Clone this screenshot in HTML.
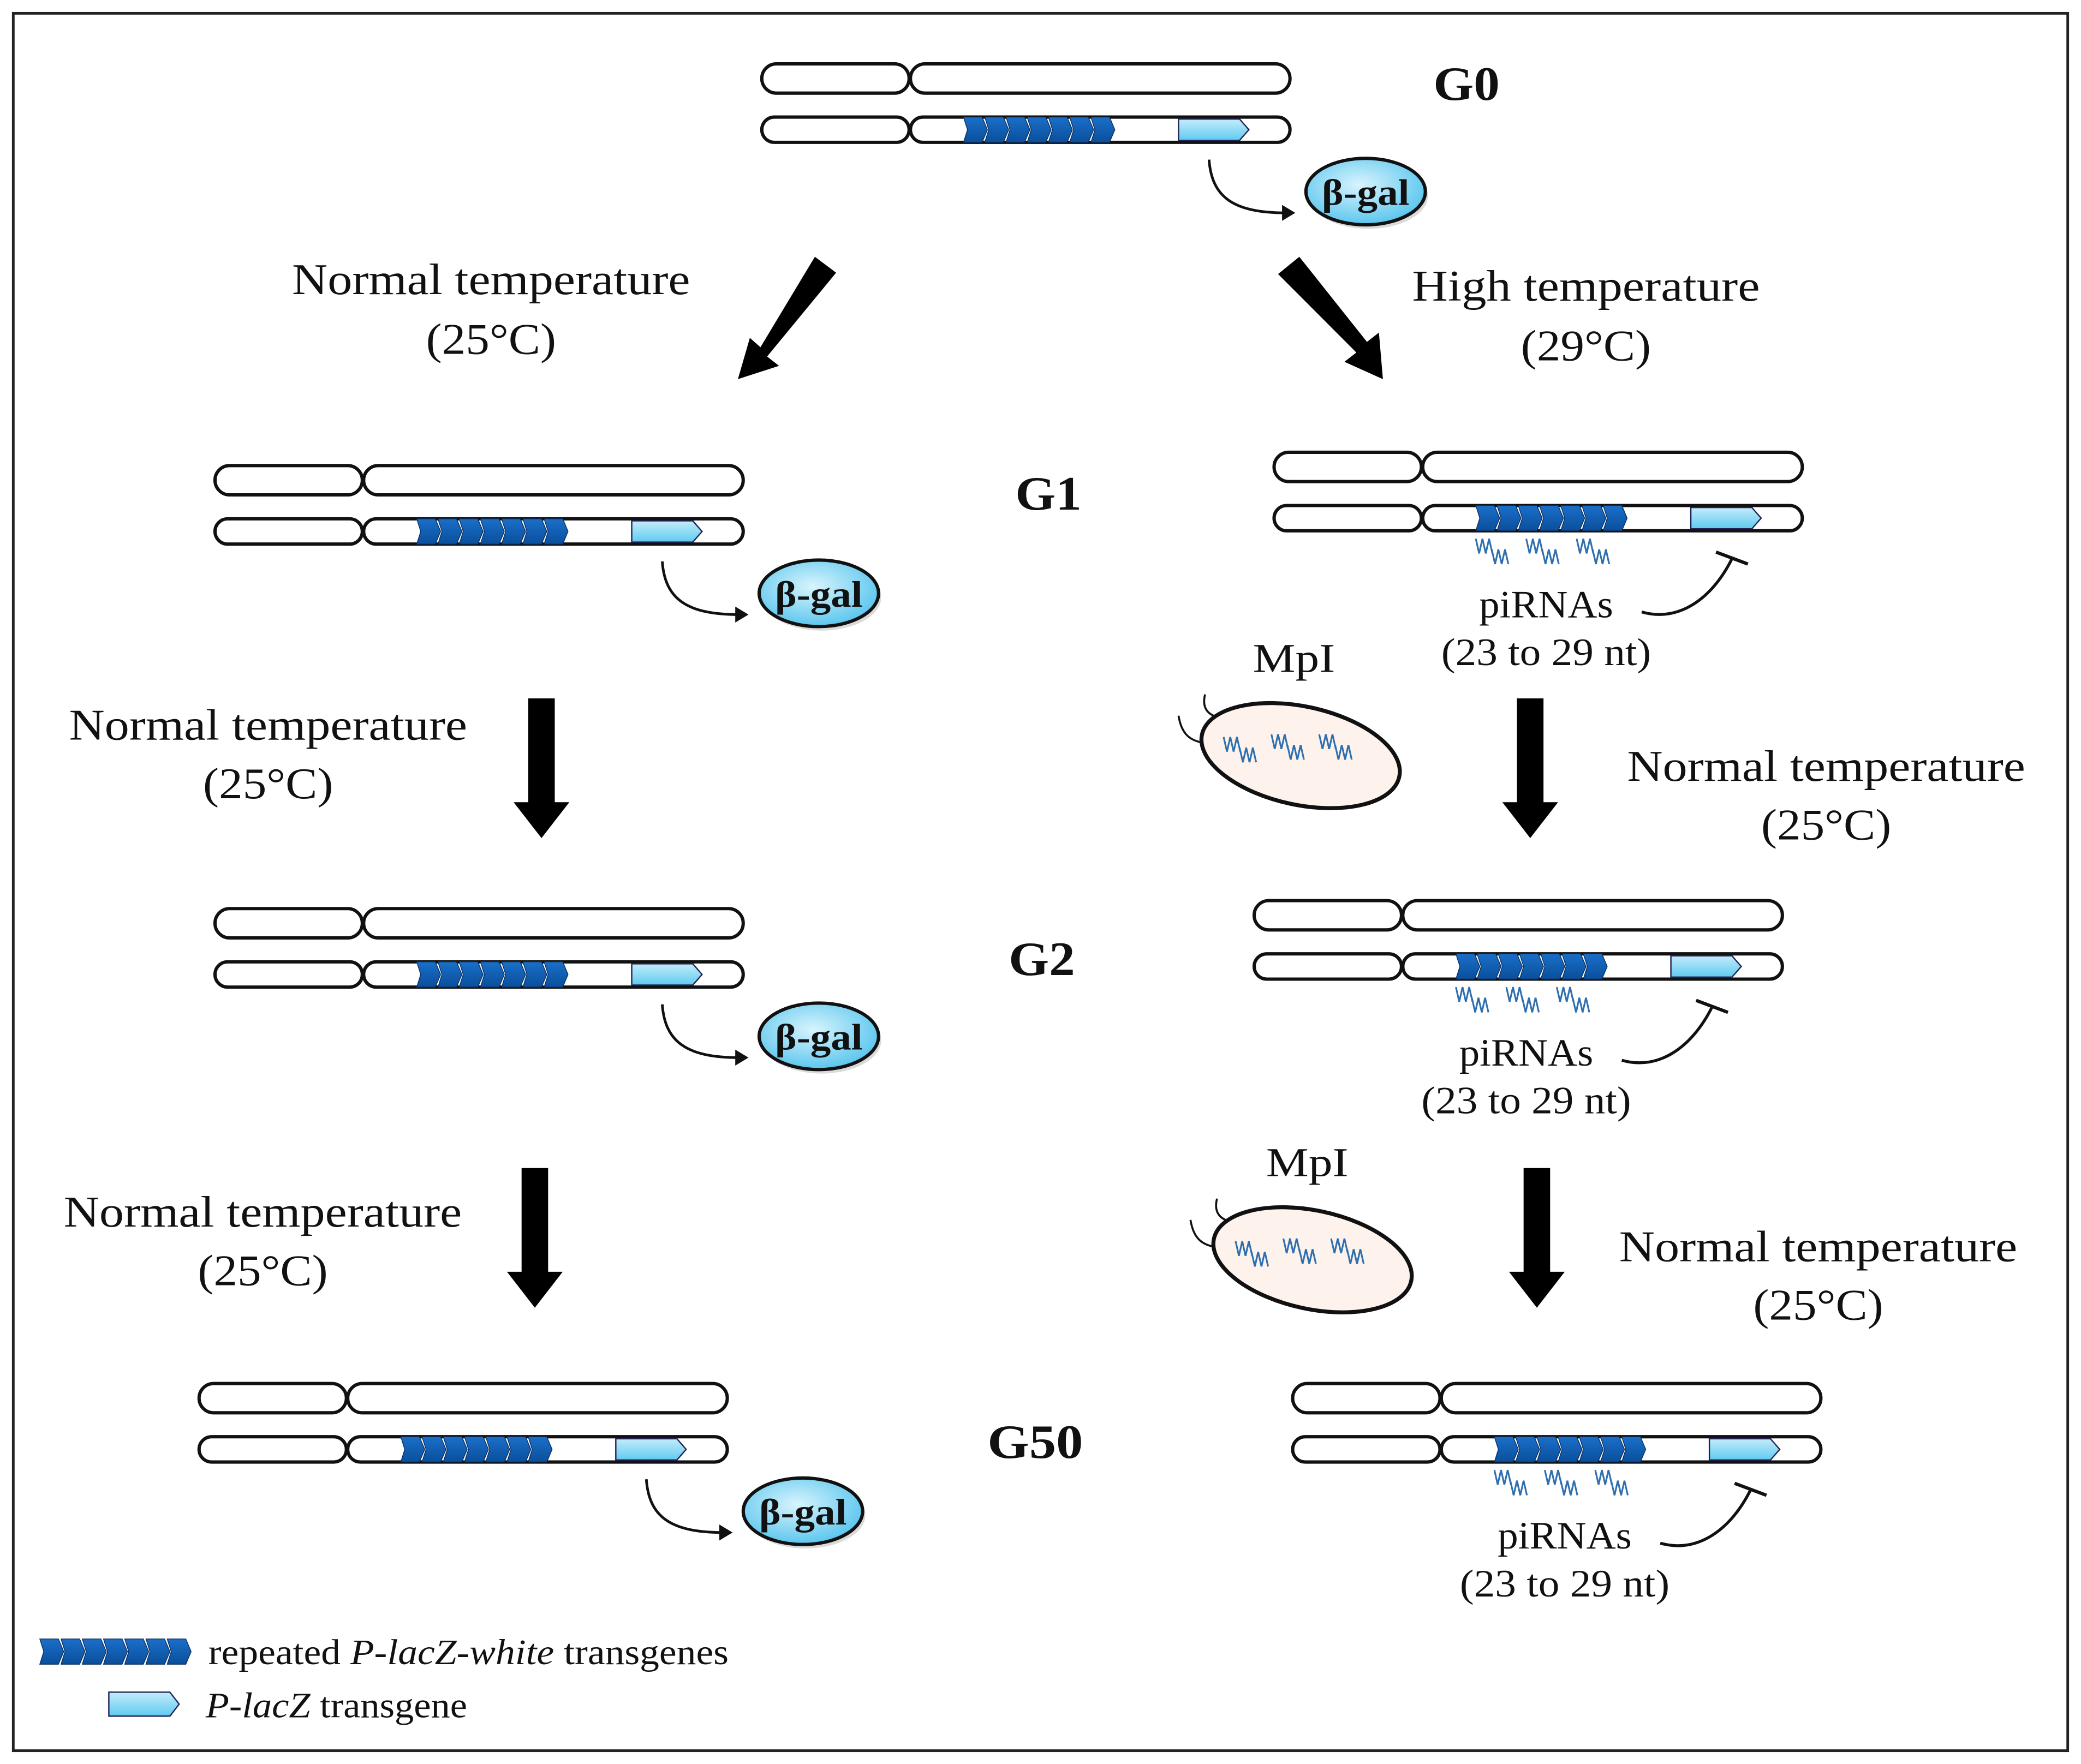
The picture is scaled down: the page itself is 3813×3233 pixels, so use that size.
<!DOCTYPE html>
<html><head><meta charset="utf-8"><style>
html,body{margin:0;padding:0;background:#fff}
svg{display:block}
text{font-family:"Liberation Serif",serif;fill:#111}
</style></head><body>
<svg width="3813" height="3233" viewBox="0 0 1568 1326" preserveAspectRatio="none" xmlns="http://www.w3.org/2000/svg">
<defs>
<linearGradient id="db" x1="0" y1="0" x2="0" y2="1"><stop offset="0" stop-color="#1a6fc9"/><stop offset="1" stop-color="#0a4f9c"/></linearGradient>
<linearGradient id="lb" x1="0" y1="0" x2="0" y2="1"><stop offset="0" stop-color="#c4ecfb"/><stop offset="1" stop-color="#5fcbf0"/></linearGradient>
<radialGradient id="bg" cx="0.45" cy="0.4" r="0.6"><stop offset="0" stop-color="#d8f4fd"/><stop offset="1" stop-color="#5bc6ee"/></radialGradient>
<g id="chev">
<polygon points="0,0 14,0 18,9.5 14,19 0,19 3,9.5" fill="url(#db)" stroke="#0a2f60" stroke-width="0.6"/>
</g>
<g id="rep">
<use href="#chev" x="0"/><use href="#chev" x="16"/><use href="#chev" x="32"/><use href="#chev" x="48"/><use href="#chev" x="64"/><use href="#chev" x="80"/><use href="#chev" x="96"/>
</g>
<g id="pair">
<rect x="0" y="0" width="111" height="22" rx="11" fill="#fff" stroke="#111" stroke-width="2.5"/>
<rect x="112" y="0" width="286" height="22" rx="11" fill="#fff" stroke="#111" stroke-width="2.5"/>
<rect x="0" y="40" width="111" height="19" rx="9.5" fill="#fff" stroke="#111" stroke-width="2.5"/>
<rect x="112" y="40" width="286" height="19" rx="9.5" fill="#fff" stroke="#111" stroke-width="2.5"/>
<use href="#rep" x="152" y="40"/>
<polygon points="314,41.5 360,41.5 367,49.5 360,57.5 314,57.5" fill="url(#lb)" stroke="#225" stroke-width="1"/>
</g>
<g id="bgal">
<path d="M337,72 C339,100 355,112 395,112" fill="none" stroke="#111" stroke-width="2"/>
<polygon points="392,106 402,112 392,118" fill="#111"/>
<ellipse cx="457" cy="99" rx="45" ry="25" fill="#999" opacity="0.35"/>
<ellipse cx="455" cy="96" rx="45" ry="25" fill="url(#bg)" stroke="#111" stroke-width="2.5"/>
<text x="455" y="106" font-size="28" font-weight="bold" text-anchor="middle" textLength="66" lengthAdjust="spacingAndGlyphs">β-gal</text>
</g>
<g id="wz">
<polyline points="0,0 2.5,11 5,0 7.5,11 10,0 12.5,11" fill="none" stroke="#2e6fb0" stroke-width="1.3"/>
</g>
<g id="wig">
<use href="#wz" x="0" y="0"/><use href="#wz" x="12" y="8"/>
<use href="#wz" x="38" y="0"/><use href="#wz" x="50" y="8"/>
<use href="#wz" x="76" y="0"/><use href="#wz" x="88" y="8"/>
</g>
<g id="pir">
<use href="#wig" x="152" y="65"/>
<path d="M277,120 C305,128 330,110 345,80" fill="none" stroke="#111" stroke-width="2.2"/>
<line x1="333" y1="75" x2="357" y2="84" stroke="#111" stroke-width="2.5"/>
<text x="205" y="124" font-size="29" text-anchor="middle" textLength="101" lengthAdjust="spacingAndGlyphs">piRNAs</text>
<text x="205" y="160" font-size="29" text-anchor="middle" textLength="158" lengthAdjust="spacingAndGlyphs">(23 to 29 nt)</text>
</g>
<g id="mpl">
<path d="M-72,-46 C-75,-34 -68,-30 -60,-28" fill="none" stroke="#111" stroke-width="1.5"/>
<path d="M-92,-30 C-90,-18 -85,-12 -75,-10" fill="none" stroke="#111" stroke-width="1.5"/>
<ellipse cx="0" cy="0" rx="76" ry="37" transform="rotate(12)" fill="#fdf3ec" stroke="#111" stroke-width="3"/>
<use href="#wz" x="-58" y="-14"/><use href="#wz" x="-46" y="-6"/>
<use href="#wz" x="-22" y="-16"/><use href="#wz" x="-10" y="-8"/>
<use href="#wz" x="14" y="-16"/><use href="#wz" x="26" y="-8"/>
</g>
<g id="varr"><polygon points="-10,0 10,0 10,78 21,78 0,105 -21,78 -10,78" fill="#000"/></g>
</defs>
<rect x="10" y="10" width="1548" height="1306" fill="#fff" stroke="#222" stroke-width="2"/>

<!-- G0 -->
<use href="#pair" x="574" y="48"/>
<use href="#bgal" x="574" y="48"/>
<text x="1105" y="75" font-size="36" font-weight="bold" text-anchor="middle" textLength="50" lengthAdjust="spacingAndGlyphs">G0</text>

<!-- diagonal arrows -->
<polygon points="614,193 630,205 578,268 587,275 556,285 565,254 573,261" fill="#000"/>
<polygon points="963,206 979,193 1030,257 1039,250 1042,285 1013,272 1022,265" fill="#000"/>
<text x="370" y="221" font-size="33" text-anchor="middle" textLength="300" lengthAdjust="spacingAndGlyphs">Normal temperature</text>
<text x="370" y="266" font-size="33" text-anchor="middle" textLength="98" lengthAdjust="spacingAndGlyphs">(25°C)</text>
<text x="1195" y="226" font-size="33" text-anchor="middle" textLength="262" lengthAdjust="spacingAndGlyphs">High temperature</text>
<text x="1195" y="271" font-size="33" text-anchor="middle" textLength="98" lengthAdjust="spacingAndGlyphs">(29°C)</text>

<!-- G1 -->
<use href="#pair" x="162" y="350"/>
<use href="#bgal" x="162" y="350"/>
<use href="#pair" x="960" y="340"/>
<use href="#pir" x="960" y="340"/>
<text x="790" y="383" font-size="36" font-weight="bold" text-anchor="middle" textLength="50" lengthAdjust="spacingAndGlyphs">G1</text>

<use href="#varr" x="408" y="525"/>
<use href="#varr" x="1153" y="525"/>
<text x="202" y="556" font-size="33" text-anchor="middle" textLength="300" lengthAdjust="spacingAndGlyphs">Normal temperature</text>
<text x="202" y="600" font-size="33" text-anchor="middle" textLength="98" lengthAdjust="spacingAndGlyphs">(25°C)</text>
<text x="1376" y="587" font-size="33" text-anchor="middle" textLength="300" lengthAdjust="spacingAndGlyphs">Normal temperature</text>
<text x="1376" y="631" font-size="33" text-anchor="middle" textLength="98" lengthAdjust="spacingAndGlyphs">(25°C)</text>
<text x="975" y="505" font-size="31" text-anchor="middle" textLength="62" lengthAdjust="spacingAndGlyphs">MpI</text>
<use href="#mpl" x="980" y="568"/>

<!-- G2 -->
<use href="#pair" x="162" y="683"/>
<use href="#bgal" x="162" y="683"/>
<use href="#pair" x="945" y="677"/>
<use href="#pir" x="945" y="677"/>
<text x="785" y="733" font-size="36" font-weight="bold" text-anchor="middle" textLength="50" lengthAdjust="spacingAndGlyphs">G2</text>

<use href="#varr" x="403" y="878"/>
<use href="#varr" x="1158" y="878"/>
<text x="198" y="922" font-size="33" text-anchor="middle" textLength="300" lengthAdjust="spacingAndGlyphs">Normal temperature</text>
<text x="198" y="966" font-size="33" text-anchor="middle" textLength="98" lengthAdjust="spacingAndGlyphs">(25°C)</text>
<text x="1370" y="948" font-size="33" text-anchor="middle" textLength="300" lengthAdjust="spacingAndGlyphs">Normal temperature</text>
<text x="1370" y="992" font-size="33" text-anchor="middle" textLength="98" lengthAdjust="spacingAndGlyphs">(25°C)</text>
<text x="985" y="884" font-size="31" text-anchor="middle" textLength="62" lengthAdjust="spacingAndGlyphs">MpI</text>
<use href="#mpl" x="989" y="947"/>

<!-- G50 -->
<use href="#pair" x="150" y="1040"/>
<use href="#bgal" x="150" y="1040"/>
<use href="#pair" x="974" y="1040"/>
<use href="#pir" x="974" y="1040"/>
<text x="780" y="1096" font-size="36" font-weight="bold" text-anchor="middle" textLength="72" lengthAdjust="spacingAndGlyphs">G50</text>

<!-- legend -->
<use href="#rep" x="30" y="1232"/>
<text x="157" y="1251" font-size="27" textLength="392" lengthAdjust="spacingAndGlyphs">repeated <tspan font-style="italic">P-lacZ-white</tspan> transgenes</text>
<polygon points="82,1272 128,1272 135,1281 128,1290 82,1290" fill="url(#lb)" stroke="#225" stroke-width="1"/>
<text x="155" y="1291" font-size="27" textLength="197" lengthAdjust="spacingAndGlyphs"><tspan font-style="italic">P-lacZ</tspan> transgene</text>
</svg>
</body></html>
